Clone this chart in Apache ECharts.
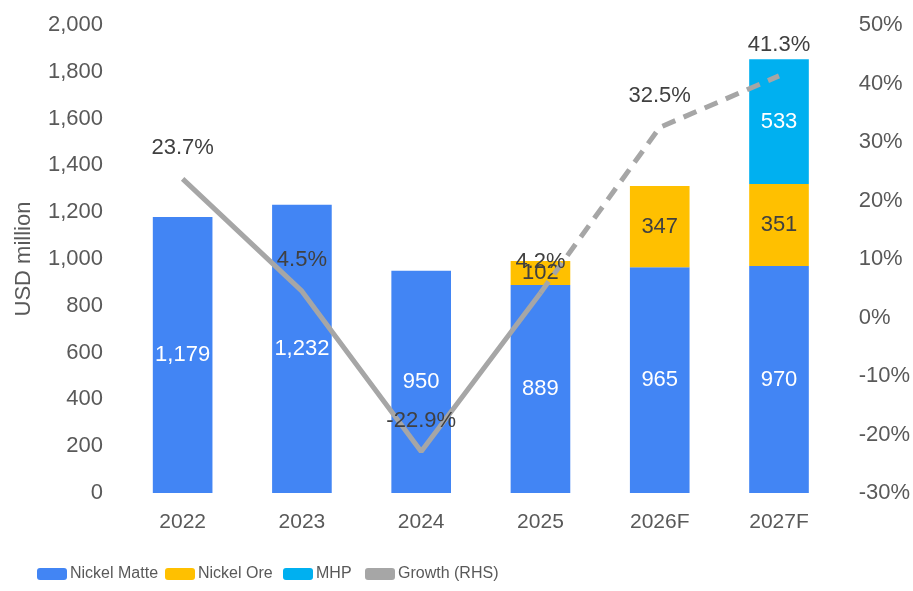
<!DOCTYPE html>
<html><head><meta charset="utf-8">
<script src="https://cdn.jsdelivr.net/npm/echarts@6/dist/echarts.min.js"></script>
<style>html,body{margin:0;padding:0;background:#fff}#c{width:913px;height:591px}</style>
</head><body><div id="c"></div>
<script>
const categories = ['2022','2023','2024','2025','2026F','2027F'];
const nickelMatte = [1179, 1232, 950, 889, 965, 970];
const nickelOre = [null, null, null, 102, 347, 351];
const mhp = [null, null, null, null, null, 533];
const growthActual = [23.7, 4.5, -22.9, 4.2, null, null];
const growthForecast = [null, null, null, 4.2, 32.5, 41.3];
const leftTicks = {min:0, max:2000, interval:200};
const rightTicks = {min:-30, max:50, interval:10};

const FONT = 'Liberation Sans, Arial, sans-serif';
const chart = echarts.init(document.getElementById('c'));
const lbl = (color) => ({show:true, position:'inside', color:color, fontSize:22, fontFamily:FONT,
  formatter: p => p.value == null ? '' : Number(p.value).toLocaleString('en-US')});
const legendText = {fontSize:16, color:'#595959', fontFamily:FONT, padding:[0,0,0,-2]};
const mkLegend = (left, name, icon) => ({
  left:left, top:566, itemWidth:30, itemHeight:12, padding:0,
  data:[icon ? {name:name, icon:icon} : {name:name}], textStyle:legendText
});
chart.setOption({
  animation:false,
  grid:{left:123, right:74, top:25, bottom:98},
  legend:[
    mkLegend(37,'Nickel Matte'),
    mkLegend(165,'Nickel Ore'),
    mkLegend(283,'MHP'),
    mkLegend(365,'Growth (RHS)','roundRect')
  ],
  xAxis:{type:'category', data:categories,
    axisLine:{show:false}, axisTick:{show:false},
    axisLabel:{fontSize:21, color:'#595959', fontFamily:FONT, margin:19}},
  yAxis:[
    {type:'value', min:leftTicks.min, max:leftTicks.max, interval:leftTicks.interval,
      name:'USD million', nameLocation:'middle', nameGap:88, nameRotate:90,
      nameTextStyle:{fontSize:22, color:'#595959', fontFamily:FONT},
      splitLine:{show:false}, axisLine:{show:false}, axisTick:{show:false},
      axisLabel:{fontSize:22, color:'#595959', fontFamily:FONT, margin:20,
        formatter:v=>v.toLocaleString('en-US')}},
    {type:'value', min:rightTicks.min, max:rightTicks.max, interval:rightTicks.interval,
      splitLine:{show:false}, axisLine:{show:false}, axisTick:{show:false},
      axisLabel:{fontSize:22, color:'#595959', fontFamily:FONT, margin:20, formatter:v=>v+'%'}}
  ],
  series:[
    {name:'Nickel Matte', type:'bar', stack:'a', barWidth:'50%', data:nickelMatte,
      itemStyle:{color:'#4285F4'}, label:lbl('#ffffff')},
    {name:'Nickel Ore', type:'bar', stack:'a', data:nickelOre,
      itemStyle:{color:'#FFC000'}, label:lbl('#404040')},
    {name:'MHP', type:'bar', stack:'a', data:mhp,
      itemStyle:{color:'#00B0F0'}, label:lbl('#ffffff')},
    {name:'Growth (RHS)', type:'line', yAxisIndex:1, data:growthActual, showSymbol:true, symbol:'circle', symbolSize:0,
      lineStyle:{color:'#A6A6A6', width:5}, itemStyle:{color:'#A6A6A6'}, z:5,
      label:{show:true, position:'top', distance:20, color:'#404040', fontSize:22, fontFamily:FONT,
        formatter:p=>p.value==null||p.dataIndex===3?'':p.value.toFixed(1)+'%'}},
    {name:'Growth forecast', type:'line', yAxisIndex:1, data:growthForecast, showSymbol:true, symbol:'circle', symbolSize:0,
      lineStyle:{color:'#A6A6A6', width:5, type:[14,9]}, itemStyle:{color:'#A6A6A6'}, z:5,
      label:{show:true, position:'top', distance:20, color:'#404040', fontSize:22, fontFamily:FONT,
        formatter:p=>p.value==null?'':p.value.toFixed(1)+'%'}}
  ]
});
</script></body></html>
